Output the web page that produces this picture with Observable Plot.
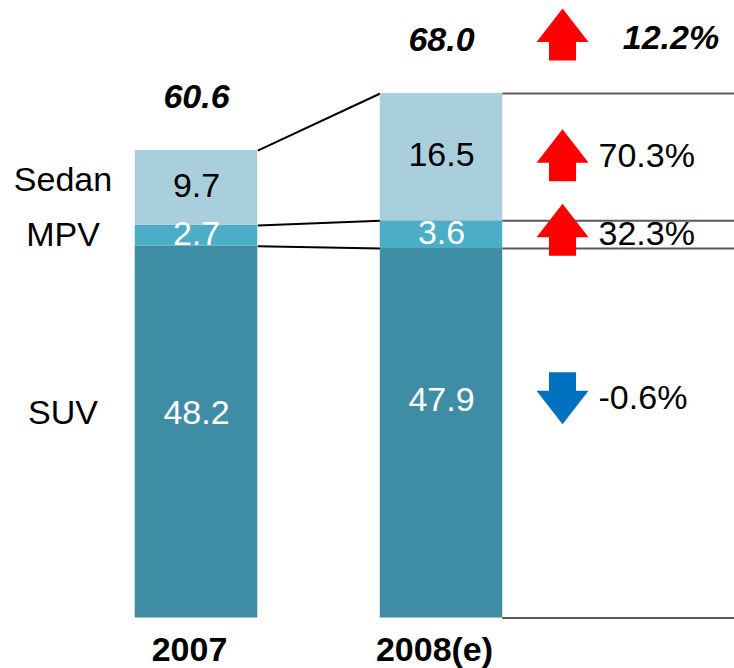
<!DOCTYPE html>
<html><head><meta charset="utf-8">
<script src="https://cdn.jsdelivr.net/npm/d3@7"></script>
<script src="https://cdn.jsdelivr.net/npm/@observablehq/plot@0.6"></script>
<style>body{margin:0;background:#fff;} svg{display:block}</style>
</head><body><div id="chart"></div>
<script>
// ---- data ----
const years = ["2007", "2008(e)"];
const segments = ["SUV", "MPV", "Sedan"];
const values2007 = [48.2, 2.7, 9.7];
const values2008 = [47.9, 3.6, 16.5];
const totals = [60.6, 68.0];
const segmentChanges = [-0.6, 32.3, 70.3];
const totalChange = 12.2;

// ---- style ----
const colors = ["#3E8DA4", "#4BADC6", "#A9CFDD"];
const labelColors = ["#ffffff", "#ffffff", "#000000"];
const FONT = "Liberation Sans, Arial, sans-serif";
const FS = 34;
const HALF = 0.25;          // half bar width in x units
const ARROW_X = 1.494;      // change column (x units)
const PCT_X = 1.641;
const TOTAL_PCT_X = 1.74;
const CAT_X = -0.545;
const RIGHT_EDGE = 2.2;

// ---- derived rows ----
const series = [values2007, values2008];
const rows = [];
years.forEach((year, i) => {
  let base = 0;
  segments.forEach((seg, j) => {
    const v = series[i][j];
    rows.push({year, i, seg, j, value: v, y1: base, y2: base + v, mid: base + v / 2});
    base += v;
  });
});
const rows07 = rows.filter(d => d.i === 0);
const rows08 = rows.filter(d => d.i === 1);
const connectors = rows07.map((d, k) => ({a: d.y2, b: rows08[k].y2}));
const ruleLevels = [0, ...rows08.map(d => d.y2)];
const totalRows = years.map((year, i) => ({year, i, total: totals[i]}));
const changeRows = rows08.map(d => ({seg: d.seg, y: d.mid, change: segmentChanges[d.j]}));

const upArrow = {
  draw(ctx, size) {
    const r = Math.sqrt(size / Math.PI);
    ctx.moveTo(0, -r);
    ctx.lineTo(r, 0.29 * r);
    ctx.lineTo(0.52 * r, 0.29 * r);
    ctx.lineTo(0.52 * r, r);
    ctx.lineTo(-0.52 * r, r);
    ctx.lineTo(-0.52 * r, 0.29 * r);
    ctx.lineTo(-r, 0.29 * r);
    ctx.closePath();
  }
};
const arrowFill = c => c >= 0 ? "#FF0000" : "#0070C0";
const pct = c => `${c.toFixed(1)}%`;
const txt = {fontSize: FS, fontFamily: FONT};

const chart = Plot.plot({
  width: 734,
  height: 668,
  marginLeft: 0, marginRight: 0, marginTop: 0, marginBottom: 0,
  style: {background: "#fff", fontFamily: FONT},
  x: {domain: [0, 1], range: [196, 441], axis: null},
  y: {domain: [0, 68], range: [617.5, 93], axis: null},
  color: {domain: segments, range: colors},
  marks: [
    Plot.ruleY(ruleLevels, {y: d => d, x1: 1 + HALF, x2: RIGHT_EDGE, stroke: "#5a5a5a", strokeWidth: 2}),
    Plot.link(connectors, {x1: HALF, x2: 1 - HALF, y1: "a", y2: "b", stroke: "#000", strokeWidth: 2}),
    Plot.rect(rows, {x1: d => d.i - HALF, x2: d => d.i + HALF, y1: "y1", y2: "y2", fill: "seg"}),
    // value labels (non-SUV at mid)
    Plot.text(rows.filter(d => d.seg !== "SUV"), {x: "i", y: "mid", text: d => d.value.toFixed(1),
      fill: d => labelColors[d.j], ...txt, dy: -2}),
    Plot.text(rows07.filter(d => d.seg === "SUV"), {x: "i", y: "mid", text: d => d.value.toFixed(1),
      fill: "#fff", ...txt, dy: -19}),
    Plot.text(rows08.filter(d => d.seg === "SUV"), {x: "i", y: "mid", text: d => d.value.toFixed(1),
      fill: "#fff", ...txt, dy: -33}),
    // category labels
    Plot.text(rows07.filter(d => d.seg === "Sedan"), {x: CAT_X, y: "mid", text: "seg", fill: "#000", ...txt, dy: -8}),
    Plot.text(rows07.filter(d => d.seg === "MPV"), {x: CAT_X, y: "mid", text: "seg", fill: "#000", ...txt, dy: -1}),
    Plot.text(rows07.filter(d => d.seg === "SUV"), {x: CAT_X, y: "mid", text: "seg", fill: "#000", ...txt, dy: -19}),
    // totals
    Plot.text(totalRows, {x: "i", y: "total", text: d => d.total.toFixed(1), fill: "#000",
      ...txt, fontWeight: "bold", fontStyle: "italic", dy: -53}),
    // year labels
    Plot.text(totalRows, {x: "i", y: 0, text: "year", fill: "#000",
      ...txt, fontWeight: "bold", dy: 32, dx: -7}),
    // change arrows
    Plot.dot(changeRows.filter(d => d.seg === "Sedan"), {x: ARROW_X, y: "y", r: 26, symbol: upArrow,
      fill: d => arrowFill(d.change), stroke: null, dy: -2}),
    Plot.dot(changeRows.filter(d => d.seg === "MPV"), {x: ARROW_X, y: "y", r: 26, symbol: upArrow,
      fill: d => arrowFill(d.change), stroke: null, dy: -5}),
    Plot.dot(changeRows.filter(d => d.seg === "SUV"), {x: ARROW_X, y: "y", r: 26, symbol: upArrow,
      rotate: d => d.change >= 0 ? 0 : 180, fill: d => arrowFill(d.change), stroke: null, dy: -35}),
    Plot.dot([totalChange], {x: ARROW_X, y: totals[1], r: 26, symbol: upArrow,
      fill: d => arrowFill(d), stroke: null, dy: -59}),
    // change text
    Plot.text(changeRows.filter(d => d.seg !== "SUV"), {x: PCT_X, y: "y", text: d => pct(d.change),
      textAnchor: "start", fill: "#000", ...txt, dy: -1}),
    Plot.text(changeRows.filter(d => d.seg === "SUV"), {x: PCT_X, y: "y", text: d => pct(d.change),
      textAnchor: "start", fill: "#000", ...txt, dy: -35}),
    Plot.text([totalChange], {x: TOTAL_PCT_X, y: totals[1], text: d => pct(d),
      textAnchor: "start", fill: "#000", ...txt, fontWeight: "bold", fontStyle: "italic", dy: -55})
  ]
});
document.getElementById("chart").append(chart);
</script>
</body></html>
